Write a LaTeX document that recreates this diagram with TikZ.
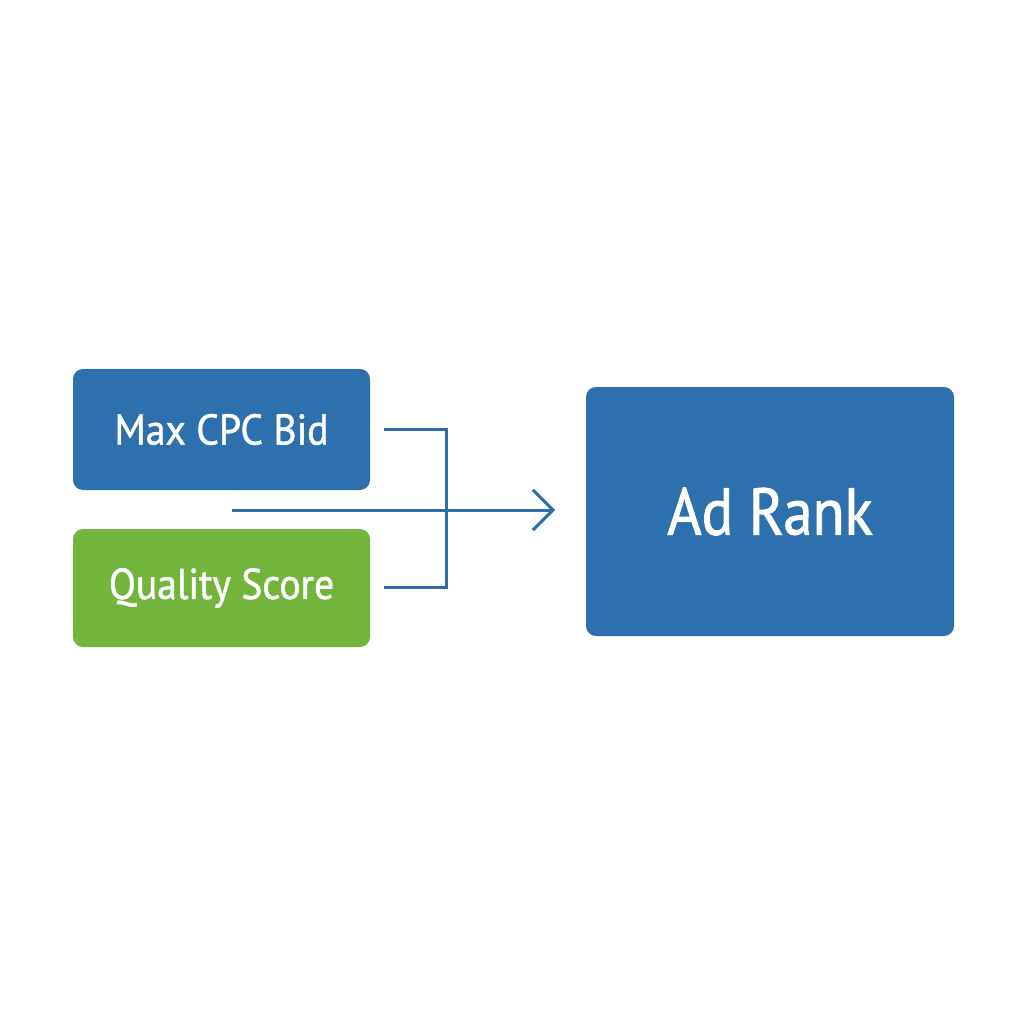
\documentclass[tikz,border=0pt]{standalone}
\usepackage{fontspec}
\setmainfont{PT Sans}[FakeBold=1]
\usetikzlibrary{arrows.meta}
\definecolor{boxblue}{HTML}{2E6FAD}
\definecolor{boxgreen}{HTML}{72B43C}
\definecolor{lineblue}{HTML}{2F6CA8}
\newfontfamily\smallbox{PT Sans}[FakeStretch=0.92,FakeBold=1.2]
\newfontfamily\bigbox{PT Sans}[FakeStretch=0.89,FakeBold=1.4]
\begin{document}
\begin{tikzpicture}[x=1pt,y=-1pt,
  inbox/.style={rounded corners=10pt, text=white, inner sep=0pt, font=\smallbox\fontsize{43}{50}\selectfont},
  conn/.style={draw=lineblue, line width=3pt}]
\useasboundingbox (0,0) rectangle (1024,1024);
\fill[white] (0,0) rectangle (1024,1024);
\node[inbox, fill=boxblue, minimum width=297pt, minimum height=121pt] (bid) at (221.5,429.5) {Max CPC Bid};
\node[inbox, fill=boxgreen, minimum width=297pt, minimum height=118pt] (qs) at (221.5,588) {Quality Score};
\node[inbox, fill=boxblue, minimum width=368pt, minimum height=249pt, font=\bigbox\fontsize{66}{72}\selectfont] (rank) at (770,511.5) {Ad Rank};
\coordinate (b1) at (384,429);
\coordinate (q1) at (384,587);
\coordinate (start) at (232,510);
\coordinate (tip) at (555,510);
\draw[conn, line cap=butt] (b1) -- (446,429) -- (446,587) -- (q1);
\draw[conn, -{Straight Barb[length=20pt,width=40pt,line width=3pt]}] (start) -- (tip);
\end{tikzpicture}
\end{document}
